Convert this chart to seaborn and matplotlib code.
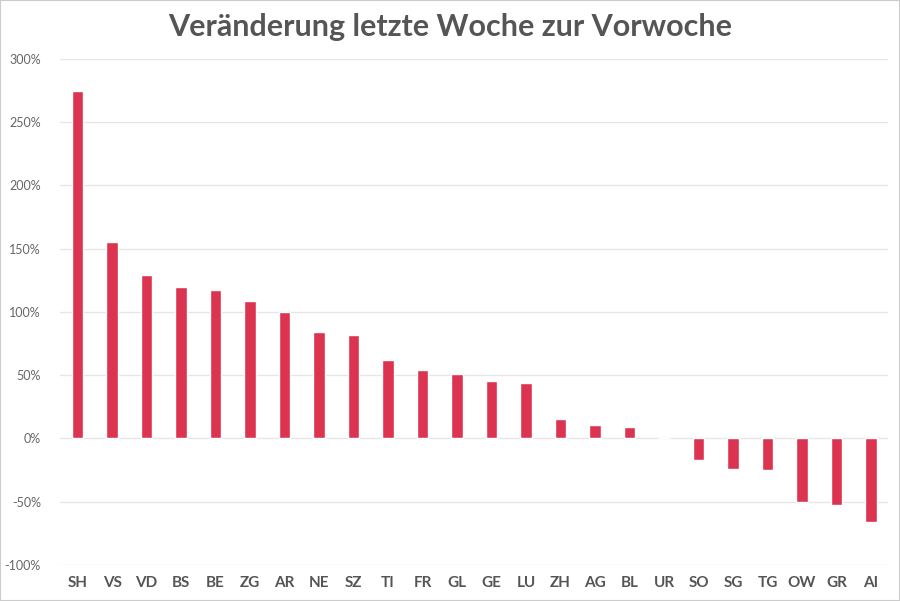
import matplotlib
matplotlib.use("Agg")
import matplotlib.pyplot as plt
import matplotlib.ticker as mticker
import pandas as pd
import seaborn as sns

# Werte (Prozent)
kantone = ["SH", "VS", "VD", "BS", "BE", "ZG", "AR", "NE", "SZ", "TI", "FR", "GL",
           "GE", "LU", "ZH", "AG", "BL", "UR", "SO", "SG", "TG", "OW", "GR", "AI"]
veraenderung = [275, 155, 129, 120, 117, 109, 100, 84, 82, 62, 54, 51,
                45, 44, 15, 11, 9, 0, -17, -24, -25, -50, -53, -66]
y_ticks = [-100, -50, 0, 50, 100, 150, 200, 250, 300]

df = pd.DataFrame({"Kanton": kantone, "Veraenderung": veraenderung})

sns.set_theme(style="white")
plt.rcParams["font.family"] = ["Lato", "DejaVu Sans"]

fig = plt.figure(figsize=(9, 6.01), dpi=100)
ax = fig.add_axes([0.067, 0.06, 0.92, 0.842])

sns.barplot(data=df, x="Kanton", y="Veraenderung", color="#dc3450",
            saturation=1, width=0.34, ax=ax, zorder=3)

ax.set_ylim(-100, 300)
ax.set_yticks(y_ticks)
ax.yaxis.set_major_formatter(mticker.FuncFormatter(lambda v, p: f"{v:.0f}%"))
ax.set_xlim(-0.5, len(kantone) - 0.5)
ax.grid(axis="y", color="#e6e6e6", linewidth=1, zorder=0)
ax.set_xlabel("")
ax.set_ylabel("")
sns.despine(ax=ax, left=True, bottom=True)
ax.tick_params(axis="y", length=0, labelsize=9, labelcolor="#666666", pad=14)
ax.tick_params(axis="x", length=0, labelsize=11, labelcolor="#555555", pad=8)
for lbl in ax.get_xticklabels():
    lbl.set_fontweight("bold")

fig.suptitle("Veränderung letzte Woche zur Vorwoche", y=0.978, fontsize=22,
             fontweight="bold", color="#555555")

# dünner Rahmen um die Grafik
fig.patches.append(plt.Rectangle((0, 0), 1, 1, transform=fig.transFigure,
                                 fill=False, edgecolor="#cccccc", linewidth=1.5))

fig.savefig("out.png", dpi=100)
